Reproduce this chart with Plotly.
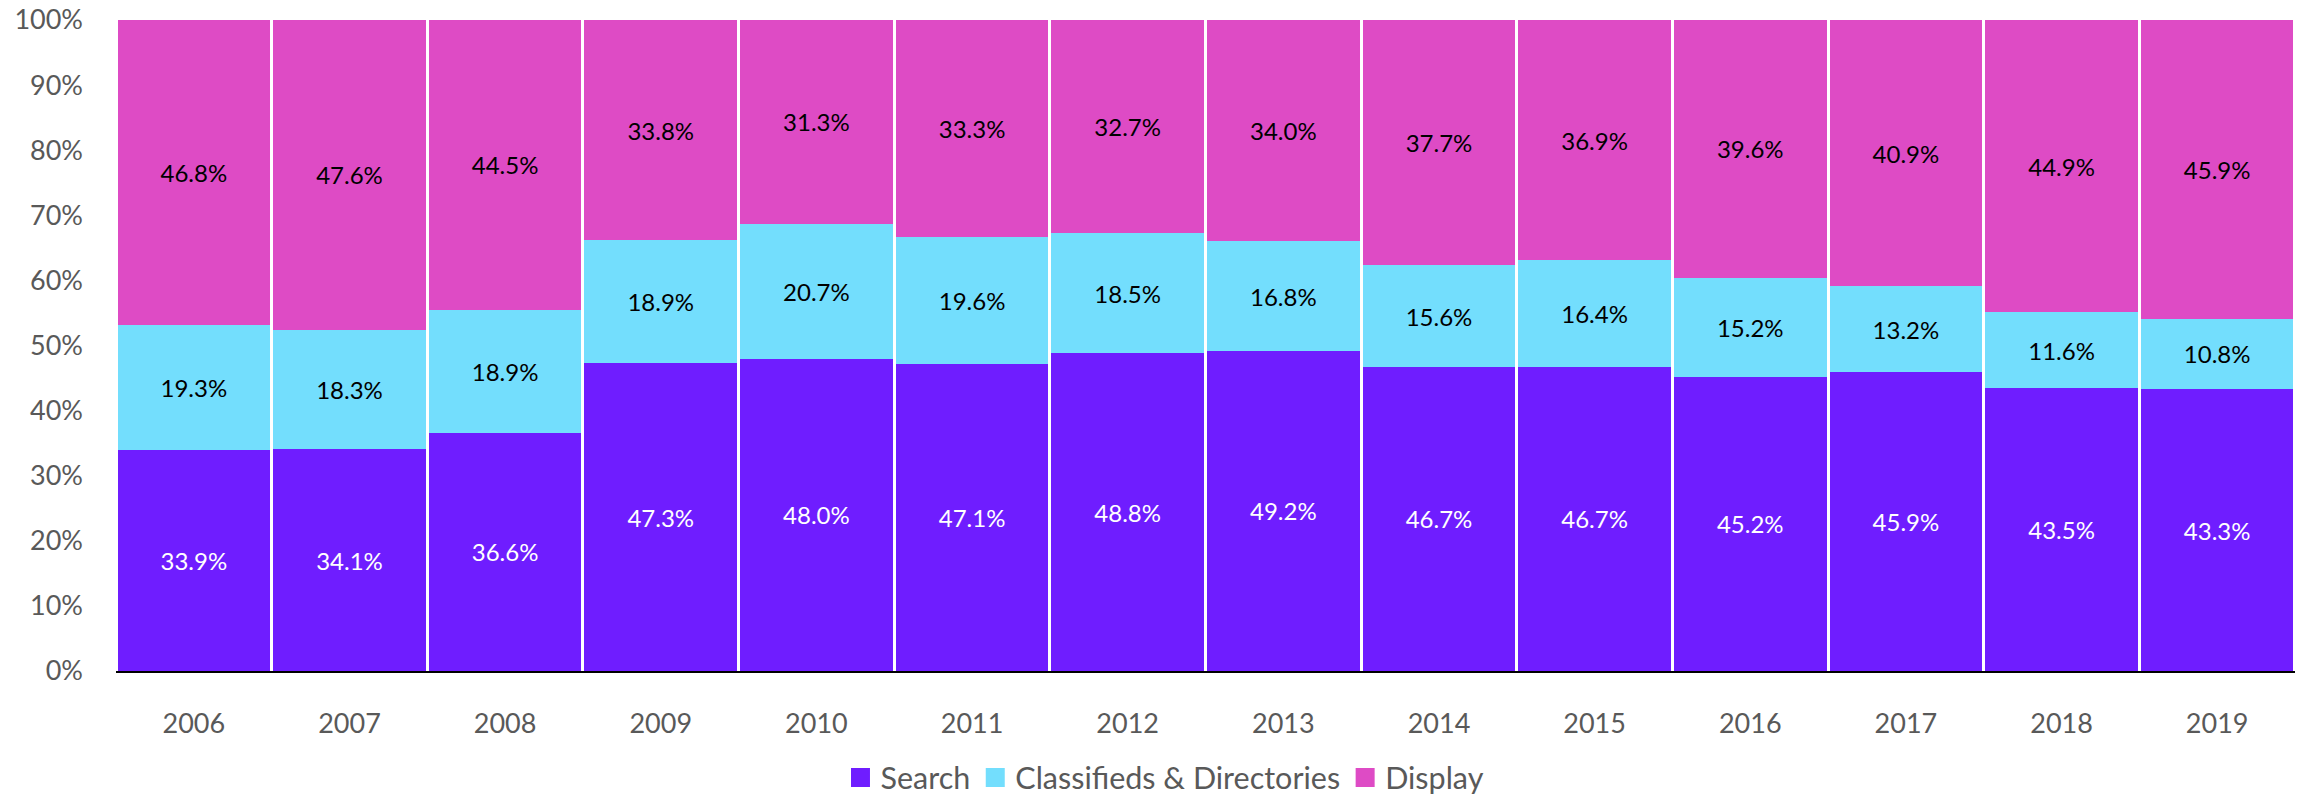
import plotly.graph_objects as go

years = ["2006", "2007", "2008", "2009", "2010", "2011", "2012", "2013", "2014", "2015", "2016", "2017", "2018", "2019"]
search = [33.9, 34.1, 36.6, 47.3, 48.0, 47.1, 48.8, 49.2, 46.7, 46.7, 45.2, 45.9, 43.5, 43.3]
classifieds = [19.3, 18.3, 18.9, 18.9, 20.7, 19.6, 18.5, 16.8, 15.6, 16.4, 15.2, 13.2, 11.6, 10.8]
display = [46.8, 47.6, 44.5, 33.8, 31.3, 33.3, 32.7, 34.0, 37.7, 36.9, 39.6, 40.9, 44.9, 45.9]

series = [
    ("Search", search, "#6F1DFF", "white"),
    ("Classifieds & Directories", classifieds, "#73DEFD", "black"),
    ("Display", display, "#DE4BC5", "black"),
]

FONT = "Lato"
fig = go.Figure()
for name, vals, color, tcolor in series:
    fig.add_trace(go.Bar(
        name=name, x=years, y=vals,
        marker=dict(color=color, line=dict(width=0)),
        text=[f"{v:.1f}%" for v in vals],
        textposition="inside", insidetextanchor="middle",
        textfont=dict(family=FONT, size=24, color=tcolor),
        textangle=0, showlegend=False,
    ))
# legend entries with square swatches
for name, vals, color, tcolor in series:
    fig.add_trace(go.Scatter(
        name=name, x=[None], y=[None], mode="markers",
        marker=dict(symbol="square", size=16, color=color,
                    line=dict(color=color, width=3)),
        showlegend=True, hoverinfo="skip",
    ))

fig.update_layout(
    barmode="stack", bargap=0.02,
    width=2298, height=796,
    margin=dict(l=116, r=3, t=19.5, b=125, autoexpand=False),
    plot_bgcolor="white", paper_bgcolor="white",
    font=dict(family=FONT, size=27, color="#595959"),
    legend=dict(orientation="h", x=0.4814, xanchor="center", y=-0.164, yanchor="middle",
                font=dict(family=FONT, size=30.5, color="#595959"),
                itemwidth=30, traceorder="normal"),
    xaxis=dict(showline=True, linecolor="black", linewidth=2, ticks="",
               ticklabelstandoff=28, tickfont=dict(size=27, color="#595959"),
               automargin=False),
    yaxis=dict(range=[0, 100], dtick=10, showgrid=False, zeroline=False,
               ticksuffix="%", ticklabelstandoff=32, automargin=False,
               ticklabeloverflow="allow",
               tickfont=dict(size=27, color="#595959")),
)

fig.write_html("out.html", config={"displayModeBar": False},
               post_script="document.body.style.margin='0';")
